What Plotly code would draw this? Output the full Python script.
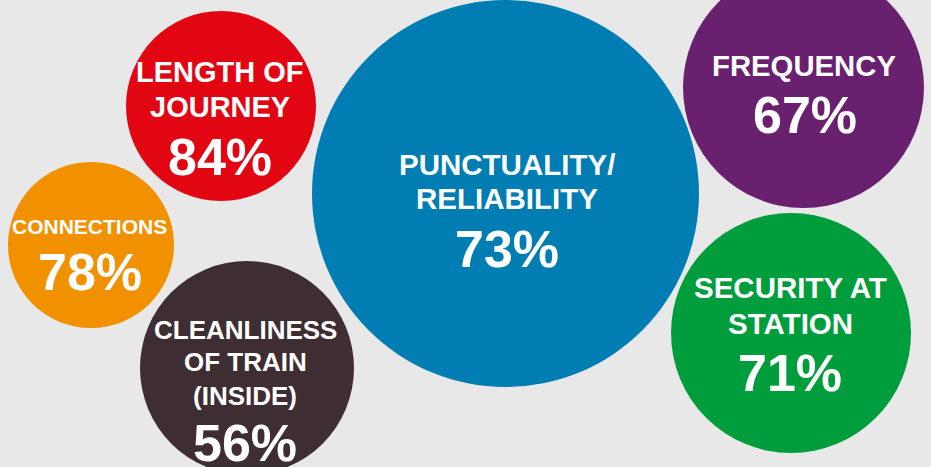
import plotly.graph_objects as go

# ---- data ----
categories = ["Length of journey", "Connections", "Cleanliness of train (inside)",
              "Punctuality/Reliability", "Frequency", "Security at station"]
label_lines = [["LENGTH OF", "JOURNEY"], ["CONNECTIONS"], ["CLEANLINESS", "OF TRAIN", "(INSIDE)"],
               ["PUNCTUALITY/", "RELIABILITY"], ["FREQUENCY"], ["SECURITY AT", "STATION"]]
values = [84, 78, 56, 73, 67, 71]

# ---- layout (pixel space) ----
bubble_x = [221, 91, 247, 505.5, 803.5, 791]
bubble_y = [106, 245, 368, 193.5, 87.5, 333]
bubble_d = [190, 166, 214, 387, 241, 240]
colors = ["#e20613", "#f29100", "#3e2d32", "#007db3", "#68206f", "#009d3d"]

label_x = [220, 89.5, 245, 507, 804, 790]
label_line_y = [[72, 107], [226], [330, 362, 396], [164, 198], [65], [287, 323]]
label_size = [29, 21, 26, 29.5, 29.3, 29.5]
pct_x = [220, 89.5, 245, 507, 804.5, 790]
pct_y = [157, 272, 443, 249, 115, 373]

W, H = 931, 467
FONT = "Liberation Sans, Arial, sans-serif"

fig = go.Figure()
fig.add_trace(go.Scatter(
    x=bubble_x, y=bubble_y, mode="markers",
    marker=dict(size=bubble_d, sizemode="diameter", color=colors,
                opacity=1, line=dict(width=0)),
    text=categories, hoverinfo="text", showlegend=False,
))

anns = []
for i in range(len(categories)):
    for line, ly in zip(label_lines[i], label_line_y[i]):
        anns.append(dict(x=label_x[i], y=ly, xref="x", yref="y",
                         text=line, showarrow=False, xanchor="center", yanchor="middle",
                         font=dict(family=FONT, size=label_size[i], color="white", weight="bold")))
    anns.append(dict(x=pct_x[i], y=pct_y[i], xref="x", yref="y",
                     text=f"{values[i]}%", showarrow=False, xanchor="center", yanchor="middle",
                     font=dict(family=FONT, size=52, color="white", weight="bold")))

fig.update_layout(
    width=W, height=H, margin=dict(l=0, r=0, t=0, b=0),
    paper_bgcolor="#e8e8e8", plot_bgcolor="#e8e8e8",
    xaxis=dict(range=[0, W], visible=False, fixedrange=True),
    yaxis=dict(range=[H, 0], visible=False, fixedrange=True),
    annotations=anns,
)
fig.write_html("out.html")
